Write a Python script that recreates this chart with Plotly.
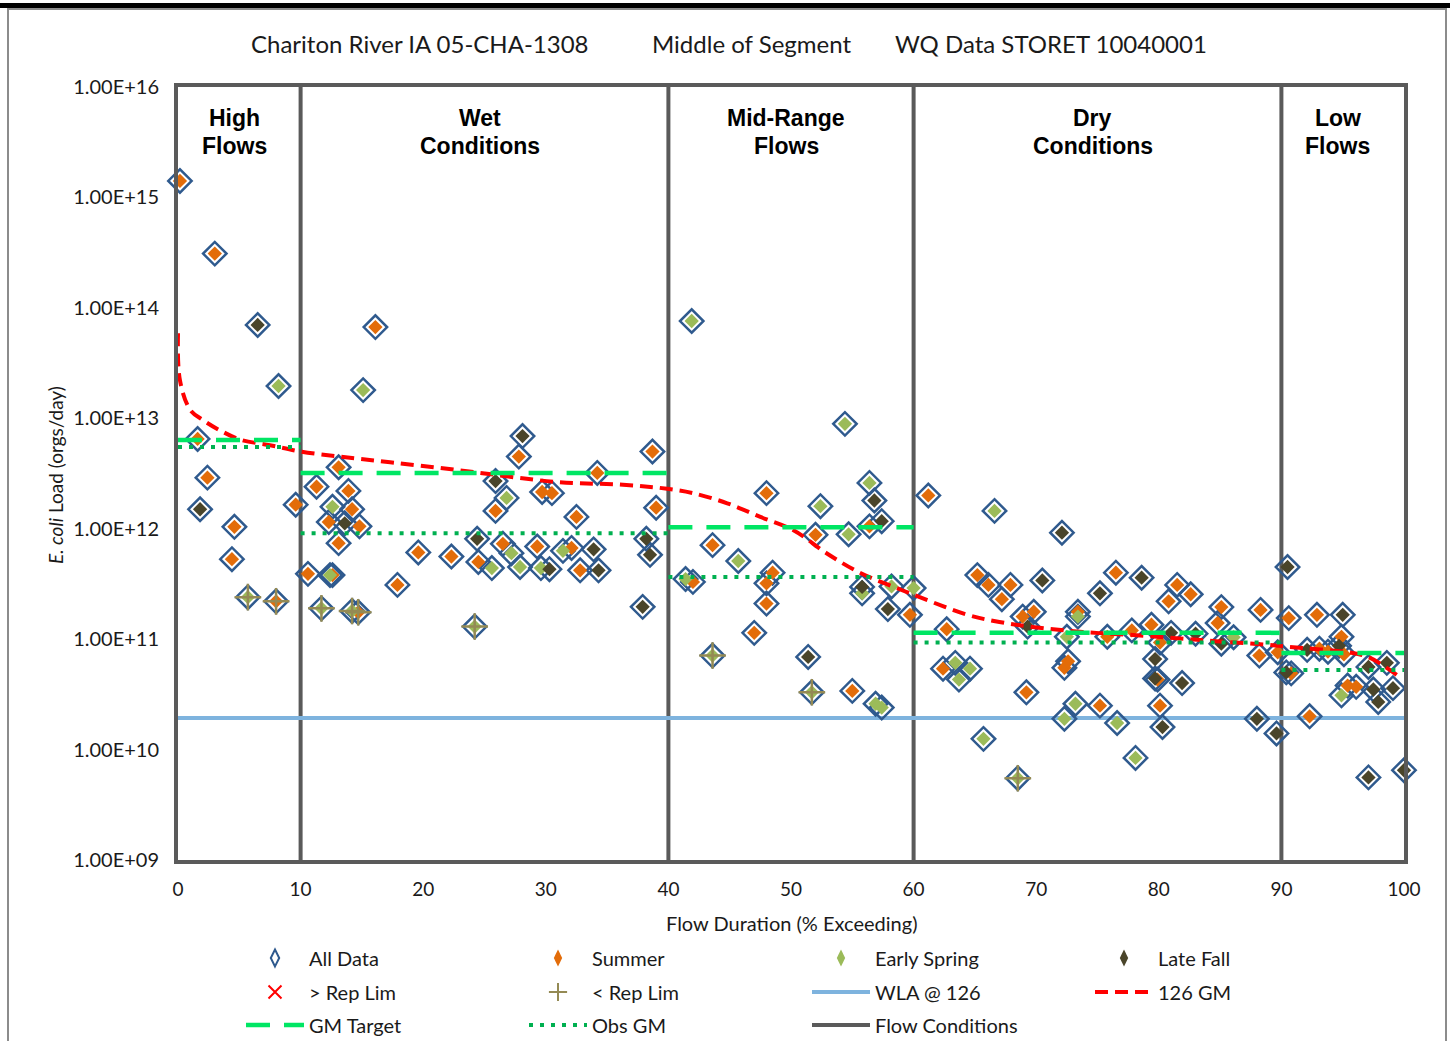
import plotly.graph_objects as go

# ---------------- data ----------------
summer_x = [0.16, 3.0, 1.6, 2.4, 4.6, 4.4, 8.0, 9.6,
            13.1, 11.3, 13.9, 14.2, 12.3, 14.8, 13.1, 10.6, 12.6, 17.9, 14.7, 19.6, 16.1,
            27.8, 38.7, 34.2, 29.7, 30.5, 25.9, 39.0, 32.5, 26.5, 29.3, 32.1, 22.3, 24.5, 32.8,
            48.0, 56.4, 52.0, 43.6, 42.0, 48.5, 48.0, 48.0, 47.0, 59.7, 55.0,
            61.2, 65.2, 66.1, 67.9, 67.2, 76.5, 81.5, 82.6, 80.8, 88.3, 85.1, 84.8, 62.7,
            69.8, 68.9, 73.4, 75.8, 77.8, 79.4, 80.1, 88.2, 79.9, 62.4, 72.3, 72.6, 69.2,
            75.2, 80.1,
            90.6, 92.9, 94.9, 93.1, 93.8, 95.1, 89.7, 90.8, 95.4, 96.1, 92.3]
summer_y = [1.41e15, 3.1e14, 6.5e12, 2.9e12, 1.04e12, 5.3e11, 2.2e11, 1.65e12,
            3.6e12, 2.4e12, 2.2e12, 1.5e12, 1.15e12, 1.05e12, 7.4e11, 3.9e11, 3.8e11, 3.1e11, 1.75e11, 6.1e11, 6.7e13,
            4.5e12, 5.0e12, 3.2e12, 2.15e12, 2.1e12, 1.45e12, 1.55e12, 1.28e12, 7.3e11, 6.9e11, 6.7e11, 5.6e11, 5.0e11, 4.2e11,
            2.1e12, 1.05e12, 8.8e11, 7.1e11, 3.3e11, 4.0e11, 3.2e11, 2.1e11, 1.14e11, 1.66e11, 3.4e10,
            2.0e12, 3.8e11, 3.1e11, 3.1e11, 2.3e11, 4.0e11, 3.1e11, 2.55e11, 2.2e11, 1.84e11, 1.95e11, 1.4e11, 1.23e11,
            1.77e11, 1.6e11, 1.77e11, 1.05e11, 1.2e11, 1.35e11, 9.3e10, 7.1e10, 4.3e10, 5.4e10, 5.5e10, 6.3e10, 3.3e10,
            2.5e10, 2.5e10,
            1.55e11, 1.66e11, 1.05e11, 8.2e10, 7.7e10, 7.3e10, 7.6e10, 4.9e10, 3.8e10, 3.7e10, 2.0e10]

spring_x = [8.2, 5.7, 15.1, 12.6, 12.4, 11.7, 14.2, 26.8, 31.4, 27.2, 25.6, 27.9, 29.6, 24.2,
            41.9, 54.4, 56.4, 52.4, 54.7, 45.7, 41.4, 55.8, 58.2, 60.0, 43.6, 51.7, 56.9, 57.4,
            66.6, 73.4, 72.5, 86.1, 63.4, 64.6, 63.7, 73.2, 72.3, 76.6, 65.7, 78.1, 68.5, 94.9]
spring_y = [1.96e13, 2.4e11, 1.8e13, 1.58e12, 3.8e11, 1.9e11, 1.8e11, 1.9e12, 6.3e11, 6.0e11, 4.4e11, 4.5e11, 4.4e11, 1.3e11,
            7.6e13, 8.9e12, 2.6e12, 1.6e12, 8.9e11, 5.1e11, 3.5e11, 2.6e11, 3.0e11, 2.9e11, 7.1e10, 3.3e10, 2.6e10, 2.4e10,
            1.45e12, 1.6e11, 1.05e11, 1.04e11, 6.1e10, 5.4e10, 4.3e10, 2.6e10, 1.9e10, 1.74e10, 1.25e10, 8.4e9, 5.5e9, 3.1e10]

fall_x = [6.5, 1.8, 13.6, 28.1, 25.9, 24.4, 33.9, 38.2, 38.5, 30.3, 34.3, 37.9,
          56.8, 57.4, 55.8, 57.9, 51.4,
          72.1, 70.5, 78.6, 75.2, 69.3, 81.0, 83.0, 85.1, 79.7, 79.7, 81.9, 80.3, 88.0, 89.6,
          90.5, 95.0, 92.1, 94.7, 90.4, 97.1, 98.6, 97.5, 99.1, 97.9, 97.1, 100.0]
fall_y = [7.0e13, 1.5e12, 1.12e12, 6.9e12, 2.7e12, 8.1e11, 6.5e11, 8.1e11, 5.8e11, 4.3e11, 4.2e11, 1.96e11,
          1.8e12, 1.17e12, 2.97e11, 1.87e11, 6.9e10,
          9.2e11, 3.4e11, 3.6e11, 2.6e11, 1.3e11, 1.14e11, 1.12e11, 9.1e10, 6.6e10, 4.4e10, 4.0e10, 1.6e10, 1.9e10, 1.4e10,
          4.5e11, 1.66e11, 8.0e10, 8.7e10, 5.0e10, 5.6e10, 6.1e10, 3.5e10, 3.6e10, 2.7e10, 5.6e9, 6.5e9]

replim_lo_x = [5.7, 8.0, 11.7, 14.2, 14.7, 24.2, 43.6, 51.7, 68.5]
replim_lo_y = [2.4e11, 2.2e11, 1.9e11, 1.8e11, 1.75e11, 1.3e11, 7.1e10, 3.3e10, 5.5e9]

gm126_x = [0, 0.16, 1.0, 2.0, 3.4, 5.1, 7.5, 10.0, 13.2, 17.3, 22.8, 30.9, 36.3, 39.9, 42.0, 44.8,
           47.5, 50.2, 52.9, 55.6, 58.3, 60.5, 64.4, 67.0, 69.7, 73.8, 77.9, 83.4, 88.8, 90.7,
           95.8, 97.2, 99.7]
gm126_y = [5.9e13, 2.2e13, 1.19e13, 9.7e12, 7.8e12, 6.4e12, 5.7e12, 5.0e12, 4.5e12, 4.0e12, 3.4e12,
           2.65e12, 2.5e12, 2.3e12, 2.1e12, 1.7e12, 1.28e12, 9.7e11, 6.0e11, 4.0e11, 3.0e11, 2.4e11,
           1.66e11, 1.43e11, 1.29e11, 1.16e11, 1.09e11, 9.8e10, 8.9e10, 8.5e10, 7.5e10, 6.8e10, 4.5e10]

wla_value = 1.93e10

zone_bounds = [0, 10, 40, 60, 90, 100]
zone_labels = [("High", "Flows"), ("Wet", "Conditions"), ("Mid-Range", "Flows"),
               ("Dry", "Conditions"), ("Low", "Flows")]
gm_target = [6.35e12, 3.2e12, 1.03e12, 1.14e11, 7.5e10]
obs_gm = [5.5e12, 9.1e11, 3.66e11, 9.3e10, 5.25e10]

y_ticks = [1e9, 1e10, 1e11, 1e12, 1e13, 1e14, 1e15, 1e16]
y_ticktext = ["1.00E+09", "1.00E+10", "1.00E+11", "1.00E+12",
              "1.00E+13", "1.00E+14", "1.00E+15", "1.00E+16"]
x_ticks = list(range(0, 101, 10))

# ---------------- styles ----------------
FONT = "Lato"
C_SUMMER = "#E36C09"
C_SPRING = "#9BBB59"
C_FALL = "#4A452A"
C_ALL = "#2F5A8E"
C_PLUS = "#948A54"
C_WLA = "#7EB3DE"
C_GM126 = "#FF0000"
C_TARGET = "#00E664"
C_OBS = "#00B050"
C_FLOW = "#5A5A5A"

fig = go.Figure()

# flow condition lines (under markers)
fx, fy = [], []
for b in zone_bounds[1:-1]:
    fx += [b, b, None]
    fy += [1e9, 1e16, None]
fig.add_trace(go.Scatter(x=fx, y=fy, mode="lines", line=dict(color=C_FLOW, width=4),
                         showlegend=False, hoverinfo="skip"))
# WLA
fig.add_trace(go.Scatter(x=[0, 100], y=[wla_value, wla_value], mode="lines",
                         line=dict(color=C_WLA, width=4), showlegend=False))

all_x = summer_x + spring_x + fall_x
all_y = summer_y + spring_y + fall_y
fig.add_trace(go.Scatter(x=all_x, y=all_y, mode="markers", cliponaxis=False, showlegend=False,
                         marker=dict(symbol="diamond-open", size=18, color=C_ALL,
                                     line=dict(color=C_ALL, width=2.5))))
for xs, ys, c in [(summer_x, summer_y, C_SUMMER), (spring_x, spring_y, C_SPRING),
                  (fall_x, fall_y, C_FALL)]:
    fig.add_trace(go.Scatter(x=xs, y=ys, mode="markers", cliponaxis=False, showlegend=False,
                             marker=dict(symbol="diamond", size=11, color=c, line=dict(width=0))))
fig.add_trace(go.Scatter(x=replim_lo_x, y=replim_lo_y, mode="markers", cliponaxis=False,
                         showlegend=False,
                         marker=dict(symbol="cross-thin-open", size=19, color=C_PLUS,
                                     line=dict(color=C_PLUS, width=2.5))))

# 126 GM curve
fig.add_trace(go.Scatter(x=gm126_x, y=gm126_y, mode="lines", line_shape="spline",
                         line=dict(color=C_GM126, width=4, dash="13px,7px"), showlegend=False))
# GM target & observed GM, piecewise per zone
tx, ty, ox, oy = [], [], [], []
for i in range(len(zone_bounds) - 1):
    tx += [zone_bounds[i], zone_bounds[i + 1], None]
    ty += [gm_target[i], gm_target[i], None]
    ox += [zone_bounds[i], zone_bounds[i + 1], None]
    oy += [obs_gm[i], obs_gm[i], None]
fig.add_trace(go.Scatter(x=tx, y=ty, mode="lines", line=dict(color=C_TARGET, width=4.5, dash="24px,14px"),
                         showlegend=False))
fig.add_trace(go.Scatter(x=ox, y=oy, mode="lines", line=dict(color=C_OBS, width=4, dash="4px,7px"),
                         showlegend=False))

# ---------------- legend entries ----------------
def leg_marker(name, symbol, color, legend, size=11, lw=0, lcolor=None):
    fig.add_trace(go.Scatter(x=[None], y=[None], mode="markers", name=name, legend=legend,
                             marker=dict(symbol=symbol, size=size, color=color,
                                         line=dict(width=lw, color=lcolor or color))))

def leg_line(name, color, width, dash, legend):
    fig.add_trace(go.Scatter(x=[None], y=[None], mode="lines", name=name, legend=legend,
                             line=dict(color=color, width=width, dash=dash)))

leg_marker("All Data", "diamond-tall-open", C_ALL, "legend", size=12, lw=2, lcolor=C_ALL)
leg_marker("Summer", "diamond-tall", C_SUMMER, "legend", size=12)
leg_marker("Early Spring", "diamond-tall", C_SPRING, "legend", size=12)
leg_marker("Late Fall", "diamond-tall", C_FALL, "legend", size=12)
leg_marker("> Rep Lim", "x-thin-open", "#FF0000", "legend2", size=13, lw=2, lcolor="#FF0000")
leg_marker("< Rep Lim", "cross-thin-open", C_PLUS, "legend2", size=13, lw=2, lcolor=C_PLUS)
leg_line("WLA @ 126", C_WLA, 4, "solid", "legend2")
leg_line("126 GM", C_GM126, 4, "13px,7px", "legend2")
leg_line("GM Target", C_TARGET, 4.5, "24px,14px", "legend3")
leg_line("Obs GM", C_OBS, 4, "4px,7px", "legend3")
leg_line("Flow Conditions", C_FLOW, 4, "solid", "legend3")

# ---------------- layout helpers ----------------
L, R, T, B = 178, 1404, 87, 860
W, H = 1450, 1041
def px(p):
    return (p - L) / (R - L)
def py(p):
    return (B - p) / (B - T)

leg_common = dict(orientation="h", xanchor="left", yanchor="middle", entrywidth=210,
                  entrywidthmode="pixels", itemwidth=58, bgcolor="rgba(0,0,0,0)",
                  font=dict(family=FONT, size=20, color="#1a1a1a"), traceorder="normal",
                  itemclick=False, itemdoubleclick=False)

annotations = []
# title pieces
for txt, cx in [("Chariton River IA 05-CHA-1308", 419.5), ("Middle of Segment", 751.5),
                ("WQ Data STORET 10040001", 1051)]:
    annotations.append(dict(text=txt, x=px(cx), y=py(44), xref="paper", yref="paper",
                            showarrow=False, xanchor="center", yanchor="middle",
                            font=dict(family=FONT, size=24, color="#1a1a1a")))
# zone labels
for i, (l1, l2) in enumerate(zone_labels):
    cx = (zone_bounds[i] + zone_bounds[i + 1]) / 2
    for txt, yy in [(l1, 118), (l2, 146)]:
        annotations.append(dict(text="<b>%s</b>" % txt, x=cx - 0.4, y=py(yy), xref="x", yref="paper",
                                showarrow=False, xanchor="center", yanchor="middle",
                                font=dict(family="Liberation Sans", size=23, color="#000000")))
# axis titles
annotations.append(dict(text="Flow Duration (% Exceeding)", x=px(791), y=py(923), xref="paper",
                        yref="paper", showarrow=False, xanchor="center", yanchor="middle",
                        font=dict(family=FONT, size=20, color="#1a1a1a")))
annotations.append(dict(text="<i>E. coli</i> Load (orgs/day)", x=px(55), y=py(475), xref="paper",
                        yref="paper", showarrow=False, xanchor="center", yanchor="middle",
                        textangle=-90, font=dict(family=FONT, size=19, color="#1a1a1a")))

shapes = [
    dict(type="line", xref="paper", yref="paper", x0=px(0), x1=px(W), y0=py(5.5), y1=py(5.5),
         line=dict(color="#000000", width=5)),
    dict(type="rect", xref="paper", yref="paper", x0=px(8), x1=px(1446), y0=py(1060), y1=py(9),
         line=dict(color="#8C8C8C", width=2), fillcolor="rgba(0,0,0,0)", layer="below"),
]

fig.update_layout(
    width=W, height=H,
    margin=dict(l=L, r=W - R, t=T, b=H - B, autoexpand=False),
    paper_bgcolor="white", plot_bgcolor="white",
    font=dict(family=FONT, size=19, color="#1a1a1a"),
    annotations=annotations, shapes=shapes,
    legend=dict(x=px(241), y=py(958), **leg_common),
    legend2=dict(x=px(241), y=py(992), **leg_common),
    legend3=dict(x=px(241), y=py(1025), **leg_common),
)
fig.update_xaxes(range=[0, 100], tickvals=x_ticks, showgrid=False, zeroline=False,
                 showline=True, linecolor=C_FLOW, linewidth=4, mirror=True, ticks="",
                 ticklabelstandoff=9, tickfont=dict(family=FONT, size=19, color="#1a1a1a"))
fig.update_yaxes(type="log", range=[9, 16], tickvals=y_ticks, ticktext=y_ticktext,
                 showgrid=False, zeroline=False, showline=True, linecolor=C_FLOW, linewidth=4,
                 mirror=True, ticks="", ticklabelstandoff=11,
                 tickfont=dict(family=FONT, size=20, color="#1a1a1a"))

fig.write_html("out.html", config={"displayModeBar": False},
               post_script="document.body.style.margin='0px';")
